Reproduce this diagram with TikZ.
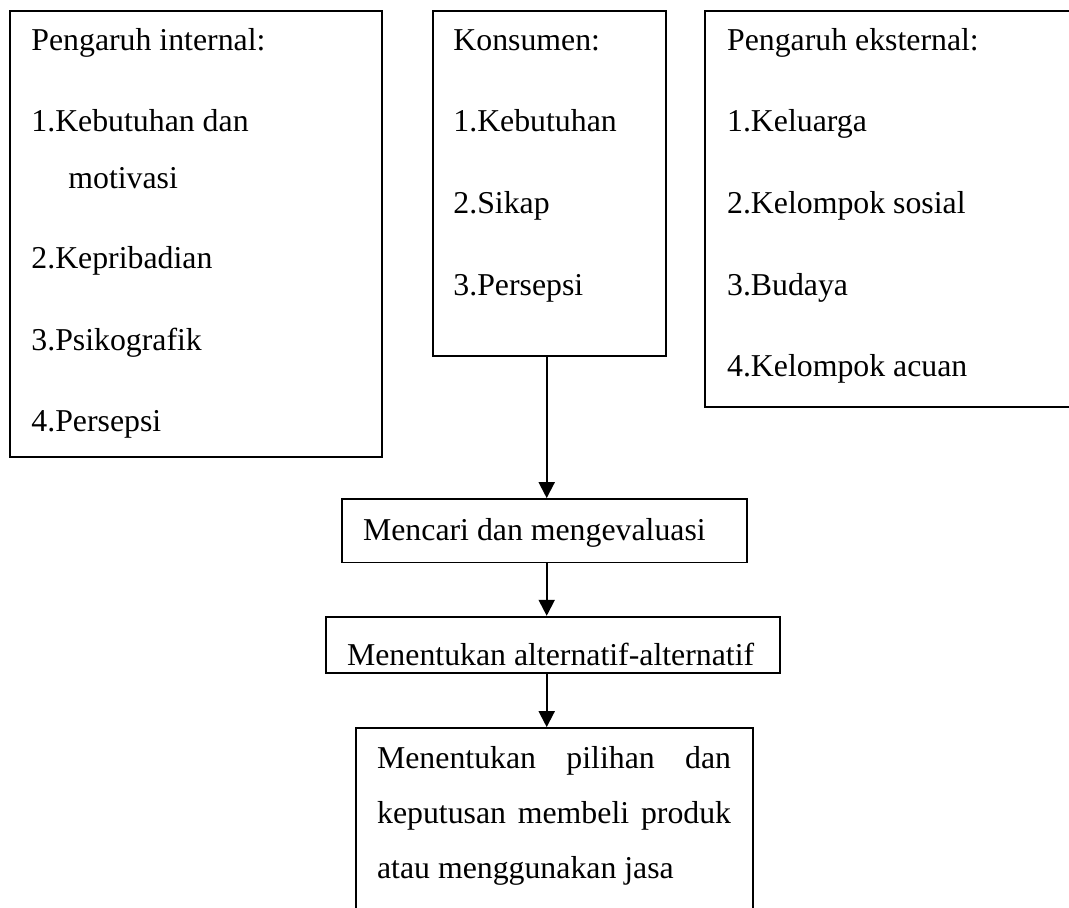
\documentclass[tikz,border=0pt]{standalone}
\usepackage{fontspec}
\setmainfont{Liberation Serif}
\usepackage{tikz}
\usetikzlibrary{arrows.meta}

\begin{document}
\begin{tikzpicture}
[
x=0.5pt, y=-0.5pt,
box/.style={rectangle, draw=black, line width=0.9pt, inner sep=0pt},
entry/.style={anchor=base west, inner sep=0pt, font=\fontsize{15.9pt}{19pt}\selectfont},
flow/.style={-{Triangle[length=8pt,width=8pt]}, line width=1pt}
]
\useasboundingbox (0,0) rectangle (1069,907);
\clip (0,0) rectangle (1069,907);

%Boxes
\node[box, minimum width=186pt,   minimum height=223pt]   (internal)    at (196,233.7)   {};
\node[box, minimum width=116.5pt, minimum height=172.7pt] (konsumen)    at (549.5,183.3) {};
\node[box, minimum width=197.5pt, minimum height=198.3pt] (eksternal)   at (902.5,209)   {};
\node[box, minimum width=202.5pt, minimum height=31.7pt]  (mencari)     at (544.2,530.7) {};
\node[box, minimum width=227pt,   minimum height=28pt]    (alternatif)  at (553,644.7)   {};
\node[box, minimum width=198.4pt, minimum height=106pt]   (pilihan)     at (554.4,834)   {};

%Texts
\node[entry] (internal_head) at (31,50)    {Pengaruh internal:};
\node[entry] (internal_1)    at (31,131.7) {1.Kebutuhan dan};
\node[entry] (internal_1b)   at (68,188.3) {motivasi};
\node[entry] (internal_2)    at (31,268)   {2.Kepribadian};
\node[entry] (internal_3)    at (31,350)   {3.Psikografik};
\node[entry] (internal_4)    at (31,431.7) {4.Persepsi};

\node[entry] (konsumen_head) at (453,50)    {Konsumen:};
\node[entry] (konsumen_1)    at (453,131.7) {1.Kebutuhan};
\node[entry] (konsumen_2)    at (453,213)   {2.Sikap};
\node[entry] (konsumen_3)    at (453,295)   {3.Persepsi};

\node[entry] (eksternal_head) at (726.7,50)    {Pengaruh eksternal:};
\node[entry] (eksternal_1)    at (726.7,131.7) {1.Keluarga};
\node[entry] (eksternal_2)    at (726.7,213)   {2.Kelompok sosial};
\node[entry] (eksternal_3)    at (726.7,295)   {3.Budaya};
\node[entry] (eksternal_4)    at (726.7,376.7) {4.Kelompok acuan};

\node[entry] (mencari_txt)    at (362.7,540) {Mencari dan mengevaluasi};
\node[entry] (alternatif_txt) at (346.7,665) {Menentukan alternatif-alternatif};
\node[entry, text width=177pt, align=justify,
      font=\fontsize{15.9pt}{27.5pt}\selectfont]
             (pilihan_txt)    at (376.7,768.3)
             {Menentukan pilihan dan\linebreak keputusan membeli produk\linebreak atau menggunakan jasa};

%Lines
\coordinate (spine) at (546.7,0);
\draw[flow] (spine |- konsumen.south)   -- (spine |- mencari.north);
\draw[flow] (spine |- mencari.south)    -- (spine |- alternatif.north);
\draw[flow] (spine |- alternatif.south) -- (spine |- pilihan.north);
\end{tikzpicture}
\end{document}
